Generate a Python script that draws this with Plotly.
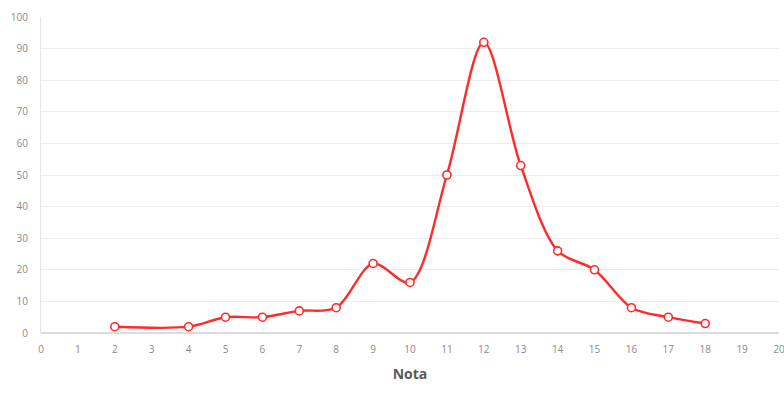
import plotly.graph_objects as go

# Grade distribution
notas = [2, 4, 5, 6, 7, 8, 9, 10, 11, 12, 13, 14, 15, 16, 17, 18]
alunos = [2, 2, 5, 5, 7, 8, 22, 16, 50, 92, 53, 26, 20, 8, 5, 3]

x_ticks = list(range(0, 21))
y_ticks = list(range(0, 101, 10))

fig = go.Figure()
fig.add_trace(go.Scatter(
    x=notas, y=alunos,
    mode="lines+markers",
    line=dict(color="#ff2a2a", width=2.4, shape="spline", smoothing=0.9),
    marker=dict(size=8, color="white", line=dict(color="#ff2a2a", width=1.6)),
    hoverinfo="x+y",
))

fig.update_layout(
    width=784, height=396,
    margin=dict(l=41, r=5, t=17, b=63),
    paper_bgcolor="white", plot_bgcolor="white",
    showlegend=False,
    font=dict(family="Open Sans, Liberation Sans, sans-serif", color="#808080", size=10),
    xaxis=dict(
        range=[0, 20], tickvals=x_ticks, ticktext=[str(v) for v in x_ticks],
        showgrid=False, zeroline=False,
        showline=False, ticks="", ticklabelstandoff=9,
        ticklabeloverflow="allow", automargin=False,
        tickfont=dict(size=10, color="#8a8a8a"),
        title=dict(text="<b>Nota</b>", font=dict(size=14, color="#595959"), standoff=14),
    ),
    yaxis=dict(
        range=[0, 100], tickvals=y_ticks,
        showgrid=True, gridcolor="#ececec", gridwidth=1,
        zeroline=True, zerolinecolor="#dcdcdc", zerolinewidth=2,
        showline=True, linecolor="#e6e6e6", linewidth=1,
        ticks="", ticklabelstandoff=10, automargin=False,
        tickfont=dict(size=10, color="#8a8a8a"),
    ),
)

fig.write_html("out.html")
